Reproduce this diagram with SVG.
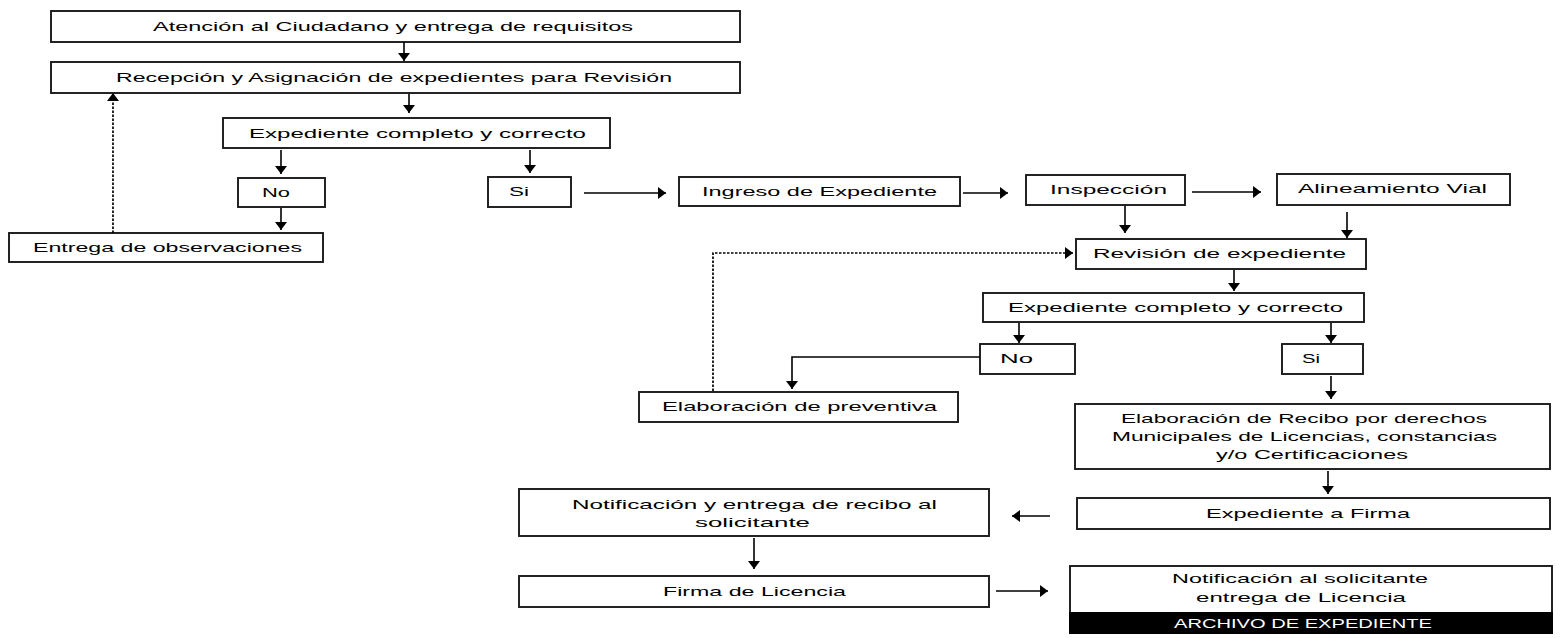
<svg xmlns="http://www.w3.org/2000/svg" width="1562" height="638" viewBox="0 0 1562 638">
<style>
.box{fill:#fff;stroke:#1a1a1a;stroke-width:1.9}
.t{font-family:"Liberation Sans",Arial,sans-serif;font-size:13.5px;fill:#000}
.c{font-family:"Liberation Sans",Arial,sans-serif;font-size:13px;fill:#000}
.w{fill:#fff}
.ln{fill:none;stroke:#000;stroke-width:1.6}
.dot{fill:none;stroke:#000;stroke-width:1.7;stroke-dasharray:2.5 1.5}
</style>
<defs>
<marker id="ah" markerUnits="userSpaceOnUse" markerWidth="8" markerHeight="12" refX="8" refY="6" orient="auto">
<path d="M0,0 L8,6 L0,12 z" fill="#000"/>
</marker>
</defs>
<rect x="0" y="0" width="1562" height="638" fill="#fff"/>
<g id="n1"><rect class="box" x="51" y="11" width="689" height="31"/><text class="t" x="153" y="31" textLength="480" lengthAdjust="spacingAndGlyphs">Atención al Ciudadano y entrega de requisitos</text></g>
<g id="n2"><rect class="box" x="51" y="62" width="689" height="31"/><text class="t" x="116" y="82" textLength="556" lengthAdjust="spacingAndGlyphs">Recepción y Asignación de expedientes para Revisión</text></g>
<g id="n3"><rect class="box" x="223" y="118" width="387" height="30"/><text class="t" x="249" y="138" textLength="337" lengthAdjust="spacingAndGlyphs">Expediente completo y correcto</text></g>
<g id="n4"><rect class="box" x="238" y="178" width="87" height="29"/><text class="t" x="262" y="197" textLength="28" lengthAdjust="spacingAndGlyphs">No</text></g>
<g id="n5"><rect class="box" x="9" y="233" width="314" height="29"/><text class="t" x="33" y="252" textLength="269" lengthAdjust="spacingAndGlyphs">Entrega de observaciones</text></g>
<g id="n6"><rect class="box" x="488" y="177" width="83" height="30"/><text class="t" x="509" y="196" textLength="20" lengthAdjust="spacingAndGlyphs">Si</text></g>
<g id="n7"><rect class="box" x="679" y="177" width="281" height="29"/><text class="t" x="702" y="196" textLength="235" lengthAdjust="spacingAndGlyphs">Ingreso de Expediente</text></g>
<g id="n8"><rect class="box" x="1026" y="175" width="159" height="30"/><text class="t" x="1050" y="194" textLength="117" lengthAdjust="spacingAndGlyphs">Inspección</text></g>
<g id="n9"><rect class="box" x="1277" y="174" width="233" height="31"/><text class="t" x="1298" y="193" textLength="189" lengthAdjust="spacingAndGlyphs">Alineamiento Vial</text></g>
<g id="n10"><rect class="box" x="1076" y="239" width="290" height="30"/><text class="t" x="1093" y="258" textLength="253" lengthAdjust="spacingAndGlyphs">Revisión de expediente</text></g>
<g id="n11"><rect class="box" x="983" y="293" width="381" height="29"/><text class="t" x="1008" y="312" textLength="335" lengthAdjust="spacingAndGlyphs">Expediente completo y correcto</text></g>
<g id="n12"><rect class="box" x="980" y="344" width="95" height="30"/><text class="t" x="1000" y="363" textLength="33" lengthAdjust="spacingAndGlyphs">No</text></g>
<g id="n13"><rect class="box" x="1282" y="344" width="81" height="30"/><text class="t" x="1302" y="363" textLength="18" lengthAdjust="spacingAndGlyphs">Si</text></g>
<g id="n14"><rect class="box" x="639" y="392" width="319" height="30"/><text class="t" x="662" y="411" textLength="275" lengthAdjust="spacingAndGlyphs">Elaboración de preventiva</text></g>
<g id="n15"><rect class="box" x="1075" y="404" width="475" height="65"/>
<text class="t" x="1121" y="423" textLength="366" lengthAdjust="spacingAndGlyphs">Elaboración de Recibo por derechos</text>
<text class="t" x="1112" y="441" textLength="385" lengthAdjust="spacingAndGlyphs">Municipales de Licencias, constancias</text>
<text class="t" x="1216" y="459" textLength="192" lengthAdjust="spacingAndGlyphs">y/o Certificaciones</text></g>
<g id="n16"><rect class="box" x="1077" y="498" width="473" height="31"/><text class="t" x="1206" y="518" textLength="204" lengthAdjust="spacingAndGlyphs">Expediente a Firma</text></g>
<g id="n17"><rect class="box" x="519" y="489" width="470" height="47"/>
<text class="c" x="572" y="509" textLength="365" lengthAdjust="spacingAndGlyphs">Notificación y entrega de recibo al</text>
<text class="c" x="695" y="527" textLength="115" lengthAdjust="spacingAndGlyphs">solicitante</text></g>
<g id="n18"><rect class="box" x="519" y="576" width="470" height="31"/><text class="c" x="663" y="596" textLength="183" lengthAdjust="spacingAndGlyphs">Firma de Licencia</text></g>
<g id="n19"><rect class="box" x="1070" y="566" width="482" height="47"/>
<rect x="1069" y="612" width="484" height="22" fill="#000"/>
<text class="t" x="1172" y="583" textLength="256" lengthAdjust="spacingAndGlyphs">Notificación al solicitante</text>
<text class="t" x="1196" y="602" textLength="210" lengthAdjust="spacingAndGlyphs">entrega de Licencia</text>
<text class="t w" x="1174" y="628" textLength="258" lengthAdjust="spacingAndGlyphs">ARCHIVO DE EXPEDIENTE</text></g>
<g id="connectors">
<line class="ln" x1="404" y1="42" x2="404" y2="61" marker-end="url(#ah)"/>
<line class="ln" x1="409" y1="94" x2="409" y2="113" marker-end="url(#ah)"/>
<line class="ln" x1="281" y1="150" x2="281" y2="174" marker-end="url(#ah)"/>
<line class="ln" x1="530" y1="150" x2="530" y2="173" marker-end="url(#ah)"/>
<line class="ln" x1="281" y1="208" x2="281" y2="230" marker-end="url(#ah)"/>
<line class="dot" x1="113" y1="233" x2="113" y2="93" marker-end="url(#ah)"/>
<line class="ln" x1="584" y1="193" x2="666" y2="193" marker-end="url(#ah)"/>
<line class="ln" x1="963" y1="193" x2="1008" y2="193" marker-end="url(#ah)"/>
<line class="ln" x1="1192" y1="192" x2="1261" y2="192" marker-end="url(#ah)"/>
<line class="ln" x1="1125" y1="206" x2="1125" y2="233" marker-end="url(#ah)"/>
<line class="ln" x1="1347" y1="212" x2="1347" y2="238" marker-end="url(#ah)"/>
<polyline class="dot" points="713,391 713,253 1073,253" marker-end="url(#ah)"/>
<line class="ln" x1="1234" y1="270" x2="1234" y2="291" marker-end="url(#ah)"/>
<line class="ln" x1="1019" y1="323" x2="1019" y2="343" marker-end="url(#ah)"/>
<line class="ln" x1="1331" y1="323" x2="1331" y2="343" marker-end="url(#ah)"/>
<polyline class="ln" points="980,357 792,357 792,389" marker-end="url(#ah)"/>
<line class="ln" x1="1331" y1="376" x2="1331" y2="399" marker-end="url(#ah)"/>
<line class="ln" x1="1328" y1="471" x2="1328" y2="494" marker-end="url(#ah)"/>
<line class="ln" x1="1050" y1="516" x2="1012" y2="516" marker-end="url(#ah)"/>
<line class="ln" x1="754" y1="538" x2="754" y2="569" marker-end="url(#ah)"/>
<line class="ln" x1="996" y1="591" x2="1048" y2="591" marker-end="url(#ah)"/>
</g>
</svg>
